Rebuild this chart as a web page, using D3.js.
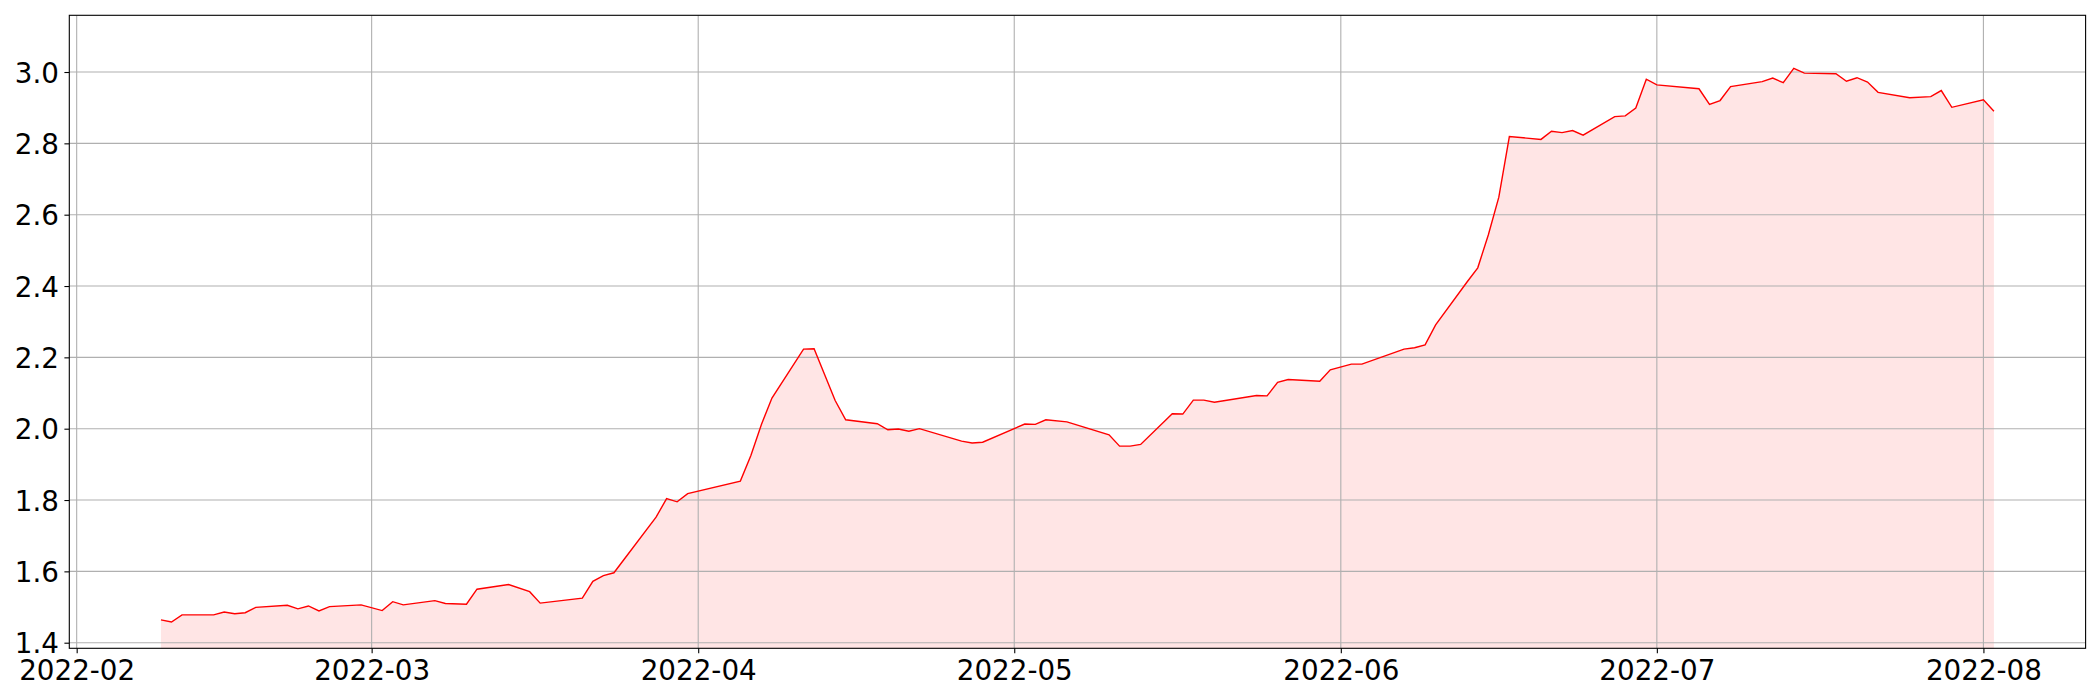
<!DOCTYPE html>
<html>
<head>
<meta charset="utf-8">
<script src="https://cdn.jsdelivr.net/npm/d3@7"></script>
<style>
  html, body { margin: 0; padding: 0; background: #fff; }
  svg { display: block; }
  text { font-family: "DejaVu Sans", sans-serif; }
</style>
</head>
<body>
<svg id="chart" width="2100" height="700"></svg>
<script>
const dates = [
  "2022-02-09","2022-02-10","2022-02-11","2022-02-14","2022-02-15","2022-02-16","2022-02-17","2022-02-18",
  "2022-02-21","2022-02-22","2022-02-23","2022-02-24","2022-02-25","2022-02-28","2022-03-02","2022-03-03",
  "2022-03-04","2022-03-07","2022-03-08","2022-03-10","2022-03-11","2022-03-14","2022-03-16","2022-03-17",
  "2022-03-21","2022-03-22","2022-03-23","2022-03-24","2022-03-28","2022-03-29","2022-03-30","2022-03-31",
  "2022-04-05","2022-04-06","2022-04-07","2022-04-08","2022-04-11","2022-04-12","2022-04-14","2022-04-15",
  "2022-04-18","2022-04-19","2022-04-20","2022-04-21","2022-04-22","2022-04-26","2022-04-27","2022-04-28",
  "2022-05-02","2022-05-03","2022-05-04","2022-05-06","2022-05-10","2022-05-11","2022-05-12","2022-05-13",
  "2022-05-16","2022-05-17","2022-05-18","2022-05-19","2022-05-20","2022-05-24","2022-05-25","2022-05-26",
  "2022-05-27","2022-05-30","2022-05-31","2022-06-02","2022-06-03","2022-06-07","2022-06-08","2022-06-09",
  "2022-06-10","2022-06-13","2022-06-14","2022-06-15","2022-06-16","2022-06-17","2022-06-20","2022-06-21",
  "2022-06-22","2022-06-23","2022-06-24","2022-06-27","2022-06-28","2022-06-29","2022-06-30","2022-07-01",
  "2022-07-05","2022-07-06","2022-07-07","2022-07-08","2022-07-11","2022-07-12","2022-07-13","2022-07-14",
  "2022-07-15","2022-07-18","2022-07-19","2022-07-20","2022-07-21","2022-07-22","2022-07-25","2022-07-27",
  "2022-07-28","2022-07-29","2022-08-01","2022-08-02"
];
const values = [
  1.464,1.458,1.478,1.478,1.486,1.481,1.484,1.499,
  1.505,1.495,1.503,1.489,1.501,1.506,1.490,1.515,
  1.506,1.518,1.510,1.508,1.550,1.563,1.543,1.511,
  1.525,1.572,1.588,1.596,1.752,1.804,1.795,1.818,
  1.853,1.925,2.012,2.086,2.223,2.224,2.079,2.025,
  2.014,1.997,1.999,1.993,2.000,1.965,1.960,1.962,
  2.013,2.012,2.025,2.019,1.983,1.951,1.951,1.956,
  2.042,2.041,2.080,2.080,2.074,2.093,2.092,2.130,
  2.138,2.133,2.165,2.181,2.181,2.223,2.227,2.235,
  2.291,2.412,2.451,2.543,2.649,2.819,2.811,2.834,
  2.830,2.836,2.823,2.875,2.877,2.899,2.980,2.964,
  2.953,2.909,2.920,2.959,2.973,2.983,2.970,3.010,
  2.997,2.995,2.974,2.984,2.972,2.943,2.928,2.931,
  2.948,2.901,2.922,2.890
];
const xTickLabels = ["2022-02","2022-03","2022-04","2022-05","2022-06","2022-07","2022-08"];
const yTickValues = [1.4,1.6,1.8,2.0,2.2,2.4,2.6,2.8,3.0];
const yLimits = [1.3843, 3.159];

(function () {
const parse = d3.utcParse("%Y-%m-%d");
const parseMonth = d3.utcParse("%Y-%m");
const data = dates.map((d, i) => ({ date: parse(d), value: values[i] }));

const pLeft = 69.3, pRight = 2085.6, pTop = 15.3, pBottom = 648.3;
const svg = d3.select("#chart");

const ext = d3.extent(data, d => d.date);
const span = ext[1] - ext[0];
const x = d3.scaleUtc()
  .domain([new Date(+ext[0] - 0.05 * span), new Date(+ext[1] + 0.05 * span)])
  .range([pLeft, pRight]);
const y = d3.scaleLinear().domain(yLimits).range([pBottom, pTop]);

svg.append("defs").append("clipPath").attr("id", "clip")
  .append("rect").attr("x", pLeft).attr("y", pTop).attr("width", pRight - pLeft).attr("height", pBottom - pTop);

const plot = svg.append("g").attr("clip-path", "url(#clip)");

// fill
plot.append("path")
  .datum(data)
  .attr("fill", "rgba(255,0,0,0.1)")
  .attr("stroke", "none")
  .attr("d", d3.area().x(d => x(d.date)).y0(pBottom + 2).y1(d => y(d.value)));

// grid
const xTicks = xTickLabels.map(s => parseMonth(s));
plot.append("g").selectAll("line").data(xTicks).join("line")
  .attr("x1", d => x(d)).attr("x2", d => x(d))
  .attr("y1", pTop).attr("y2", pBottom)
  .attr("stroke", "#b0b0b0").attr("stroke-width", 1.1);
plot.append("g").selectAll("line").data(yTickValues).join("line")
  .attr("x1", pLeft).attr("x2", pRight)
  .attr("y1", d => y(d)).attr("y2", d => y(d))
  .attr("stroke", "#b0b0b0").attr("stroke-width", 1.1);

// line
plot.append("path")
  .datum(data)
  .attr("fill", "none")
  .attr("stroke", "#ff0000")
  .attr("stroke-width", 1.4)
  .attr("stroke-linejoin", "miter")
  .attr("d", d3.line().x(d => x(d.date)).y(d => y(d.value)));

// axes
const fs = 27.78;
const xAxis = d3.axisBottom(x).tickValues(xTicks).tickFormat(d3.utcFormat("%Y-%m"))
  .tickSize(4.9).tickPadding(4.9);
const gx = svg.append("g").attr("transform", `translate(0,${pBottom})`).call(xAxis);
gx.select(".domain").remove();
gx.selectAll(".tick line").attr("stroke", "#000").attr("stroke-width", 1.1);
gx.selectAll(".tick text").attr("font-size", fs).attr("font-family", "DejaVu Sans")
  .attr("fill", "#000").attr("dy", null).attr("y", 31.7);

const yAxis = d3.axisLeft(y).tickValues(yTickValues).tickFormat(d3.format(".1f"))
  .tickSize(4.9).tickPadding(4.9);
const gy = svg.append("g").attr("transform", `translate(${pLeft},0)`).call(yAxis);
gy.select(".domain").remove();
gy.selectAll(".tick line").attr("stroke", "#000").attr("stroke-width", 1.1);
gy.selectAll(".tick text").attr("font-size", fs).attr("font-family", "DejaVu Sans")
  .attr("fill", "#000").attr("dy", null).attr("y", 10.2).attr("x", -10.3);

// frame
svg.append("rect")
  .attr("x", pLeft).attr("y", pTop).attr("width", pRight - pLeft).attr("height", pBottom - pTop)
  .attr("fill", "none").attr("stroke", "#000").attr("stroke-width", 1.1);
})();
</script>
</body>
</html>
